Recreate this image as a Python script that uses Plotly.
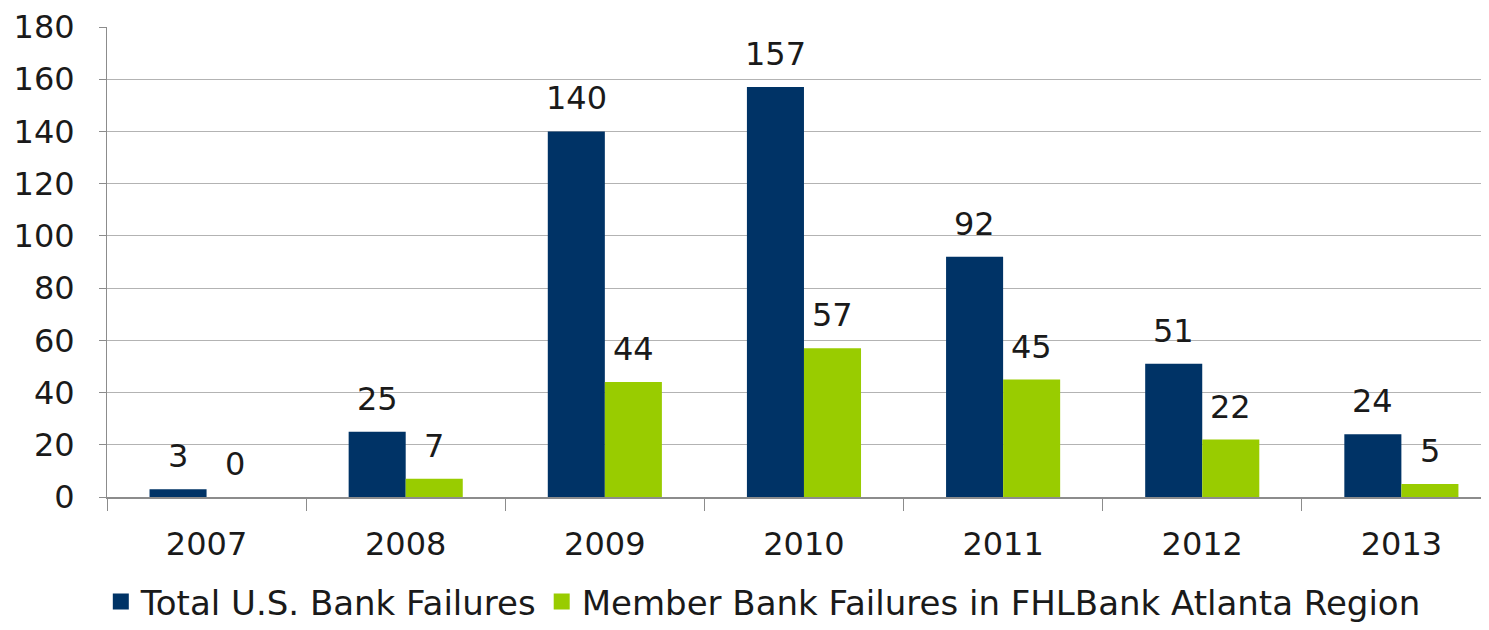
import plotly.graph_objects as go

years = ["2007", "2008", "2009", "2010", "2011", "2012", "2013"]
total_failures = [3, 25, 140, 157, 92, 51, 24]
member_failures = [0, 7, 44, 57, 45, 22, 5]
series_names = ["Total U.S. Bank Failures", "Member Bank Failures in FHLBank Atlanta Region"]
y_ticks = [0, 20, 40, 60, 80, 100, 120, 140, 160, 180]

NAVY = "#003366"
GREEN = "#99CC00"
FONT = "DejaVu Sans"
TXT = "#1a1a1a"

fig = go.Figure()
for vals, name, col in ((total_failures, series_names[0], NAVY),
                        (member_failures, series_names[1], GREEN)):
    fig.add_trace(go.Bar(x=years, y=vals, name=name, showlegend=False,
                         marker=dict(color=col, line=dict(width=0))))
# legend entries with larger square swatches
for name, col in zip(series_names, (NAVY, GREEN)):
    fig.add_trace(go.Scatter(x=[None], y=[None], mode="markers", name=name,
                             marker=dict(symbol="square", size=20, color=col)))

# data labels
for i, yr in enumerate(years):
    for vals, off in ((total_failures, -0.143), (member_failures, 0.143)):
        fig.add_annotation(x=i + off, y=vals[i], xref="x", yref="y",
                           text=str(vals[i]), showarrow=False,
                           yanchor="bottom", yshift=12,
                           font=dict(family=FONT, size=32, color=TXT))

# page body has an 8px default margin; compensate so the plot lands where the reference has it
fig.update_layout(
    width=1481, height=622,
    margin=dict(l=99, r=0, t=19, b=133, autoexpand=False),
    paper_bgcolor="white", plot_bgcolor="white",
    barmode="group", bargap=0.427, bargroupgap=0,
    font=dict(family=FONT, size=32, color=TXT),
    showlegend=True,
    legend=dict(orientation="h", x=0.51, xanchor="center", xref="container",
                y=0.045, yanchor="middle", yref="container",
                font=dict(family=FONT, size=34, color=TXT),
                itemsizing="trace", itemwidth=30, tracegroupgap=0, traceorder="normal"),
)
fig.update_xaxes(
    type="category", range=[-0.5, 6.44], automargin=False,
    showline=True, linecolor="#8c8c8c", linewidth=2,
    ticks="outside", tickson="boundaries", ticklen=12, tickcolor="#8c8c8c", tickwidth=1,
    ticklabelstandoff=18,
    tickfont=dict(family=FONT, size=32, color=TXT),
    showgrid=False,
)
fig.update_yaxes(
    range=[0, 180], tickvals=y_ticks, automargin=False,
    showline=True, linecolor="#8c8c8c", linewidth=1,
    ticks="outside", ticklen=7, tickcolor="#8c8c8c",
    ticklabelstandoff=18,
    showgrid=True, gridcolor="#b3b3b3", gridwidth=1,
    zeroline=False,
    tickfont=dict(family=FONT, size=32, color=TXT),
)

fig.write_html("out.html")
